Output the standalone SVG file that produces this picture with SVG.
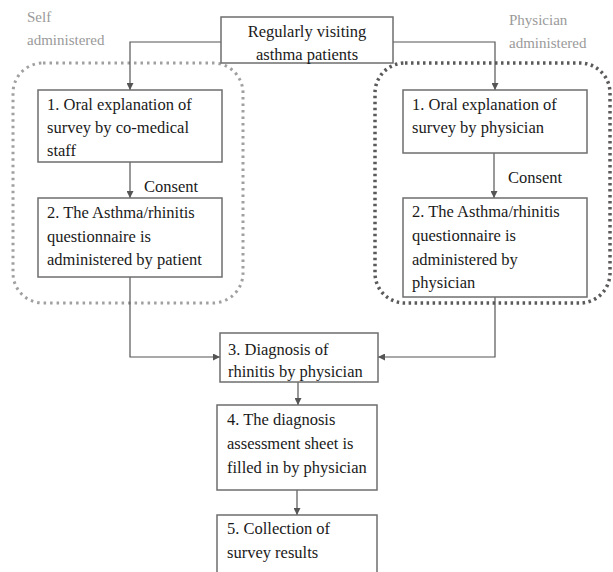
<svg xmlns="http://www.w3.org/2000/svg" width="613" height="572" viewBox="0 0 613 572">
<style>
.box{fill:#fff;stroke:#6e6e6e;stroke-width:1.5}
.t{font-family:'Liberation Serif','DejaVu Serif',serif;font-size:16.5px;fill:#1a1a1a}
.lbl{font-family:'Liberation Serif','DejaVu Serif',serif;font-size:15px;fill:#9a9a9a}
.c{fill:none;stroke:#555;stroke-width:1.2}
.grp1{fill:none;stroke:#a0a0a0;stroke-width:3;stroke-dasharray:2.5 4}
.grp2{fill:none;stroke:#5a5a5a;stroke-width:3.5;stroke-dasharray:2.5 3.5}
</style>
<defs>
<marker id="ah" viewBox="0 0 10 10" refX="10" refY="5" markerWidth="7" markerHeight="7" orient="auto" markerUnits="userSpaceOnUse">
<path d="M0,0 L10,5 L0,10 z" fill="#555"/>
</marker>
</defs>
<rect width="613" height="572" fill="#fff"/>
<g id="group-self"><rect class="grp1" x="13" y="63" width="230" height="240" rx="30"/><text class="lbl" x="27" y="22">Self</text><text class="lbl" x="27" y="45">administered</text></g>
<g id="group-physician"><rect class="grp2" x="375" y="63" width="235" height="240" rx="30"/><text class="lbl" x="509" y="25">Physician</text><text class="lbl" x="509" y="48">administered</text></g>
<g id="connectors">
<path class="c" d="M221,42 H130 V90" marker-end="url(#ah)"/>
<path class="c" d="M393,42 H495 V90" marker-end="url(#ah)"/>
<path class="c" d="M130,162 V198" marker-end="url(#ah)"/>
<path class="c" d="M494,153 V198" marker-end="url(#ah)"/>
<path class="c" d="M130,277 V357 H220" marker-end="url(#ah)"/>
<path class="c" d="M495,297 V357 H378" marker-end="url(#ah)"/>
<path class="c" d="M298,382 V405" marker-end="url(#ah)"/>
<path class="c" d="M297,490 V515" marker-end="url(#ah)"/>
</g>
<g id="start"><rect class="box" x="221" y="17" width="172" height="46"/><text class="t" x="307" y="37" text-anchor="middle">Regularly visiting</text><text class="t" x="307" y="60" text-anchor="middle">asthma patients</text></g>
<g id="self-1"><rect class="box" x="38" y="90" width="184" height="72"/><text class="t" x="47" y="110">1. Oral explanation of</text><text class="t" x="47" y="133">survey by co-medical</text><text class="t" x="47" y="156">staff</text></g>
<text class="t" x="144" y="192">Consent</text>
<g id="self-2"><rect class="box" x="38" y="198" width="184" height="79"/><text class="t" x="47" y="218">2. The Asthma/rhinitis</text><text class="t" x="47" y="242">questionnaire is</text><text class="t" x="47" y="265">administered by patient</text></g>
<g id="phys-1"><rect class="box" x="403" y="90" width="184" height="63"/><text class="t" x="412" y="110">1. Oral explanation of</text><text class="t" x="412" y="133">survey by physician</text></g>
<text class="t" x="508" y="183">Consent</text>
<g id="phys-2"><rect class="box" x="403" y="198" width="184" height="99"/><text class="t" x="412" y="217">2. The Asthma/rhinitis</text><text class="t" x="412" y="241">questionnaire is</text><text class="t" x="412" y="265">administered by</text><text class="t" x="412" y="288">physician</text></g>
<g id="step-3"><rect class="box" x="220" y="333" width="158" height="49"/><text class="t" x="228" y="355">3. Diagnosis of</text><text class="t" x="228" y="377">rhinitis by physician</text></g>
<g id="step-4"><rect class="box" x="217" y="405" width="160" height="85"/><text class="t" x="227" y="425">4. The diagnosis</text><text class="t" x="227" y="449">assessment sheet is</text><text class="t" x="227" y="473">filled in by physician</text></g>
<g id="step-5"><rect class="box" x="217" y="515" width="160" height="70"/><text class="t" x="227" y="534">5. Collection of</text><text class="t" x="227" y="558">survey results</text></g>
</svg>
